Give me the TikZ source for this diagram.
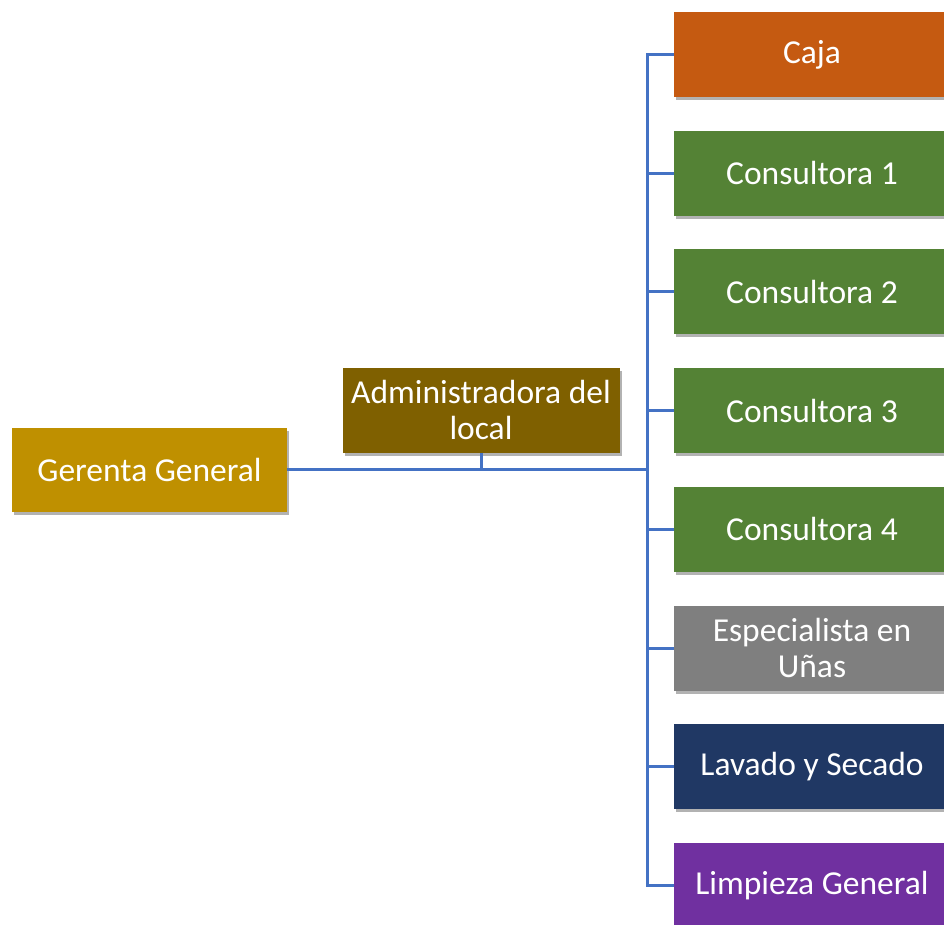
\documentclass[tikz,border=0pt]{standalone}
\usepackage{fontspec}
\setmainfont{Carlito}
\usetikzlibrary{shadows}
\definecolor{cOrange}{HTML}{C55A11}
\definecolor{cGreen}{HTML}{548235}
\definecolor{cGray}{HTML}{7F7F7F}
\definecolor{cNavy}{HTML}{203864}
\definecolor{cPurple}{HTML}{7030A0}
\definecolor{cGold}{HTML}{BF9000}
\definecolor{cBrown}{HTML}{7F6000}
\definecolor{cLine}{HTML}{4472C4}
\tikzset{
  orgbox/.style={fill=#1, text=white, inner sep=2pt, align=center,
    font=\fontsize{33.5}{36.5}\selectfont,
    drop shadow={shadow xshift=2pt, shadow yshift=-3pt, opacity=0.3, fill=black}},
  rbox/.style={orgbox=#1, minimum width=276pt, minimum height=85pt},
  conn/.style={draw=cLine, line width=3pt}
}
\begin{document}
\begin{tikzpicture}[x=1pt,y=-1pt]
\useasboundingbox (0,0) rectangle (944,924);
\node[orgbox=cGold, minimum width=275pt, minimum height=84pt] (ger) at (149.5,470) {Gerenta General};
\node[orgbox=cBrown, minimum width=277pt, minimum height=85pt] (adm) at (481,410) {Administradora del\\local};
\node[rbox=cOrange] (caja) at (812,54.5) {Caja};
\node[rbox=cGreen] (c1) at (812,173.2) {Consultora 1};
\node[rbox=cGreen] (c2) at (812,291.9) {Consultora 2};
\node[rbox=cGreen] (c3) at (812,410.6) {Consultora 3};
\node[rbox=cGreen] (c4) at (812,529.3) {Consultora 4};
\node[rbox=cGray] (esp) at (812,648) {Especialista en\\Uñas};
\node[rbox=cNavy] (lav) at (812,766.7) {Lavado y Secado};
\node[rbox=cPurple] (lim) at (812,885.4) {Limpieza General};
\coordinate (busx) at (647,0);
\coordinate (hub) at (647,469);
\draw[conn] (ger.east |- hub) -- (hub);
\draw[conn] (adm.south) -- (adm.south |- hub);
\draw[conn, line cap=rect] (caja.west -| busx) -- (lim.west -| busx);
\foreach \b in {caja,c1,c2,c3,c4,esp,lav,lim}{
  \draw[conn] (\b.west -| busx) -- (\b.west);
}
\end{tikzpicture}
\end{document}
